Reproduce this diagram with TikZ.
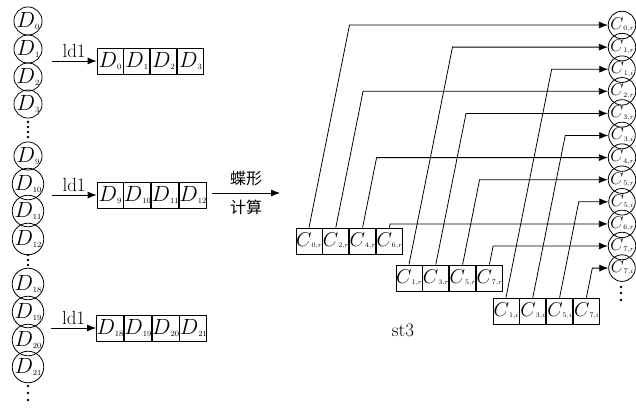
\RequirePackage{fix-cm}
\documentclass[tikz,border=0pt]{standalone}
\usepackage{amsmath}
\usepackage{fontspec}
\newfontfamily\cjk{Noto Sans CJK SC}
\usetikzlibrary{arrows.meta,positioning,calc}
\newcommand{\Dx}[1]{$D$\raisebox{-1.5pt}{\fontsize{8}{8}\selectfont$#1$}}
\newcommand{\Cx}[2]{$C$\raisebox{-1.5pt}{\fontsize{7}{7}\selectfont$#1{,}#2$}}
\newcommand{\feed}[2]{\draw[arr] let \p1=(#1.north), \p2=(#2.west) in
  (\p1) -- ({\x1+0.2*(\y2-\y1)},\y2) -- (\p2);}

\begin{document}
\begin{tikzpicture}[x=1pt,y=-1pt,line width=0.8pt,
  font=\fontsize{19}{21}\selectfont,
  dc/.style={draw,circle,minimum size=28pt,inner sep=0pt,font=\fontsize{22}{24}\selectfont},
  cell/.style={draw,minimum width=26pt,minimum height=26pt,inner sep=0pt,font=\fontsize{22}{24}\selectfont},
  ccell/.style={cell,font=\fontsize{20}{22}\selectfont},
  rc/.style={draw,circle,minimum size=24pt,inner sep=0pt,font=\fontsize{17}{19}\selectfont},
  arr/.style={-{Latex[length=9pt,width=7pt]},line width=0.8pt},
  cjkl/.style={font=\cjk\fontsize{16}{18}\selectfont},
]
\useasboundingbox (0,0) rectangle (636,408);
% input samples
\foreach \n/\y in {0/21,1/49,2/77,3/104,9/156,10/184,11/211,12/239,18/284,19/312,20/340,21/367}
  \node[dc] (d\n) at (28,\y) {\Dx{\n}};
\foreach \y in {122,127,132,137,255,260,265,386,393,400}
  \fill (28,\y) circle (1.3);
% ld1 registers
\node[cell] (b0) at (110,61) {\Dx{0}};
\node[cell,right=0pt of b0] (b1) {\Dx{1}};
\node[cell,right=0pt of b1] (b2) {\Dx{2}};
\node[cell,right=0pt of b2] (b3) {\Dx{3}};
\node[cell] (b9) at (110,195) {\Dx{9}};
\node[cell,right=0pt of b9] (b10) {\Dx{10}};
\node[cell,right=0pt of b10] (b11) {\Dx{11}};
\node[cell,right=0pt of b11] (b12) {\Dx{12}};
\node[cell] (b18) at (110,328) {\Dx{18}};
\node[cell,right=0pt of b18] (b19) {\Dx{19}};
\node[cell,right=0pt of b19] (b20) {\Dx{20}};
\node[cell,right=0pt of b20] (b21) {\Dx{21}};
\draw[arr] ([xshift=-45pt]b0.west) -- node[above]{ld1} (b0.west);
\draw[arr] ([xshift=-45pt]b9.west) -- node[above]{ld1} (b9.west);
\draw[arr] ([xshift=-45pt]b18.west) -- node[above]{ld1} (b18.west);
% butterfly
\coordinate (bfin) at (212,193);
\coordinate (bfout) at (280,193);
\draw[arr] (bfin) -- node[above=3pt,cjkl]{蝶形} node[below=3pt,cjkl]{计算} (bfout);
% st3 registers
\node[ccell] (e0r) at (309,241) {\Cx{0}{r}};
\node[ccell,right=0pt of e0r] (e2r) {\Cx{2}{r}};
\node[ccell,right=0pt of e2r] (e4r) {\Cx{4}{r}};
\node[ccell,right=0pt of e4r] (e6r) {\Cx{6}{r}};
\node[ccell] (e1r) at (409,278) {\Cx{1}{r}};
\node[ccell,right=0pt of e1r] (e3r) {\Cx{3}{r}};
\node[ccell,right=0pt of e3r] (e5r) {\Cx{5}{r}};
\node[ccell,right=0pt of e5r] (e7r) {\Cx{7}{r}};
\node[ccell] (e1i) at (506,311) {\Cx{1}{i}};
\node[ccell,right=0pt of e1i] (e3i) {\Cx{3}{i}};
\node[ccell,right=0pt of e3i] (e5i) {\Cx{5}{i}};
\node[ccell,right=0pt of e5i] (e7i) {\Cx{7}{i}};
\node (st) at (403,330) {st3};
% outputs
\foreach \n/\t [count=\k from 0] in {0/r,1/r,1/i,2/r,3/r,3/i,4/r,5/r,5/i,6/r,7/r,7/i}
  \node[rc] (c\n\t) at (622,{25+22.1*\k}) {\Cx{\n}{\t}};
\foreach \y in {287,293,300}
  \fill (621,\y) circle (1.3);
\foreach \s in {0r,2r,4r,6r,1r,3r,5r,7r,1i,3i,5i,7i}
  \feed{e\s}{c\s};
\end{tikzpicture}
\end{document}
